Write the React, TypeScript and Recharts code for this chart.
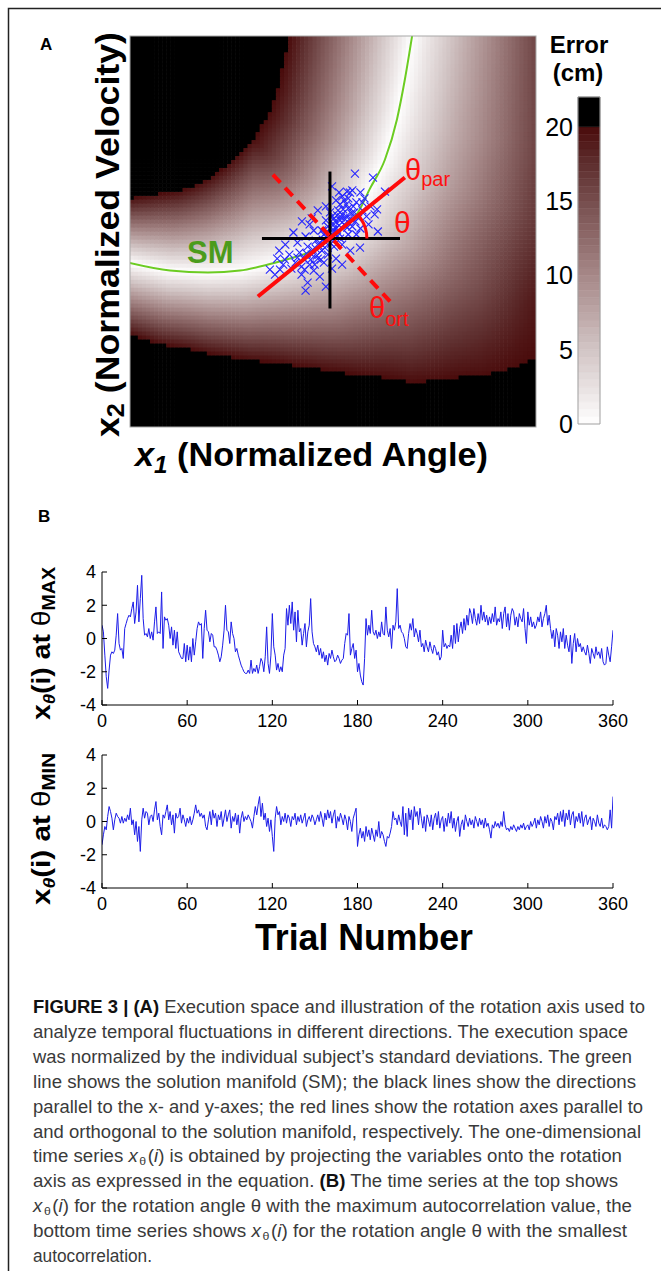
import React from 'react';
import { ComposedChart, LineChart, Line, Scatter, XAxis, YAxis, ReferenceArea } from 'recharts';

const FONT = '"Liberation Sans", Arial, Helvetica, sans-serif';
const NARROW = '"Liberation Sans Narrow", "Liberation Sans", Arial, sans-serif';

// ---------------- Panel A (execution space) ----------------
const A_X_DOMAIN: [number, number] = [-9.85, 10.15];
const A_Y_DOMAIN: [number, number] = [-9.4, 10.1];
const PLOT_A = { left: 130, top: 36, width: 406, height: 391 };

// solution manifold (normalized units)
const SM_X = [-9.95, -7.88, -6.01, -4.43, -3.05, -1.97, -1.08, 0, 0.74, 1.38, 1.97, 2.71, 3.3, 3.69, 4.07];
const SM_Y = [-1.2, -1.6, -1.7, -1.6, -1.3, -1.0, -0.7, -0.05, 0.6, 1.3, 2.49, 3.94, 5.94, 7.93, 10.25];

const UP_GAIN_X = [-10, -8.5, -6.8, -5.2, -3.8, -2.0, 4.5];
const UP_GAIN = [6.3, 5.5, 4.7, 3.85, 3.2, 3.35, 3.4];
const LO_GAIN_X = [-10, -6.8, -3.5, 0, 4, 7.4, 10.2];
const LO_GAIN_Y = [-9.5, -6.5, -3, 0, 5, 10.2];
const LO_GAIN = [
  [5.7, 5.15, 4.35, 3.36, 2.45, 2.0, 1.72],
  [5.7, 5.15, 4.35, 3.36, 2.45, 2.0, 1.72],
  [5.7, 5.15, 4.35, 3.3, 2.5, 2.1, 1.95],
  [5.7, 5.15, 4.3, 3.2, 2.5, 2.2, 2.04],
  [5.7, 5.15, 4.3, 3.2, 2.6, 2.3, 2.26],
  [5.7, 5.15, 4.3, 3.2, 2.7, 2.6, 2.57],
];

// colormap (error in cm -> colour), >20 is black
const CMAP_V = [0, 2.5, 5, 7.5, 10, 12.5, 15, 17.5, 20];
const CMAP_C = ['#ffffff', '#e8e1e1', '#d2c5c5', '#bca6a6', '#a68888', '#8e6a6a', '#764d4d', '#5e2e2e', '#4a0c0c'];
const CB_TICKS = [0, 5, 10, 15, 20];
const CB_DOMAIN: [number, number] = [0, 22];

// trial data (normalized) cloud
const CLOUD: [number, number][] = [
  [1.23, 3.24], [2.12, 3.04], [0.84, 2.34], [0.99, 2.29], [2.71, 2.34], [2.32, 1.45], [2.36, 0.35], [1.48, -0.45],
  [-1.38, 0.85], [-2.46, -1.55], [-2.71, -1.8], [-2.96, -1.55], [-2.22, -1.05],
  [0.1, 0.2], [0.3, 0.5], [0.5, 0.9], [0.6, 1.2], [0.4, 1.4], [0.8, 1.1], [0.9, 1.5], [0.2, 1.0], [-0.1, 0.6], [0.7, 0.7],
  [1.0, 1.0], [1.2, 1.3], [0.5, 1.7], [0.3, 1.9], [0.0, 1.3], [-0.2, 0.9], [1.1, 0.6], [1.4, 1.0], [1.6, 1.4], [1.3, 1.8],
  [0.9, 2.0], [0.6, 2.1], [1.8, 1.1], [2.0, 1.6], [1.5, 0.5], [0.4, 0.3], [-0.3, 0.2], [-0.5, -0.2], [-0.7, -0.5], [-0.4, -0.6],
  [-0.9, -0.8], [-1.1, -0.4], [-0.6, -1.0], [-1.3, -1.0], [-1.0, -1.3], [-0.8, -1.6], [-1.5, -0.7], [-1.7, -1.2], [-0.3, -1.2], [-0.1, -0.8],
  [0.2, -0.4], [-1.2, 0.1], [-1.6, -0.2], [-2.0, -0.8], [-1.9, -1.5], [-2.3, -1.3], [-1.4, -1.8], [-0.5, -1.9], [-1.1, -2.2], [0.1, -1.5],
  [0.6, -0.3], [0.9, 0.2], [-0.8, 0.4], [-1.0, 0.7], [-1.8, 0.3], [-2.2, -0.3], [-2.6, -1.0], [-0.2, -2.4], [0.3, -1.0], [1.0, -0.6],
  [0.0, 0.0], [0.2, 0.7], [-0.4, 0.4], [0.8, 1.7], [1.7, 2.0], [1.1, 2.4], [2.2, 1.2], [-1.4, -1.4], [-0.7, -0.1], [0.5, 0.0],
  [1.5, 2.3], [0.1, 2.6], [-0.6, 1.4], [1.9, 0.7], [-2.5, -0.6], [-1.2, -2.6], [0.6, -1.3], [-0.2, 1.6], [1.3, 0.2], [-0.9, 1.0],
  [0.35, 1.15], [0.65, 1.45], [0.15, 0.45], [0.45, 0.65], [0.75, 0.95], [1.05, 1.25], [0.55, 1.05], [0.25, 0.85], [-0.15, 0.35], [-0.35, -0.05],
  [-0.55, -0.35], [-0.25, -0.45], [-0.85, -0.55], [-0.65, -0.85], [-1.15, -0.75], [-0.45, -1.05], [-0.95, -1.05], [0.05, -0.25], [0.35, 0.1], [0.85, 0.55],
  [1.25, 0.85], [1.15, 1.6], [0.7, 1.9], [0.45, 2.3], [1.6, 1.8], [-1.6, -0.95], [-1.25, -1.55], [-0.75, -1.3], [-0.2, -0.2], [0.1, 1.1],
];

// axes / rotation axes (end points, normalized units)
const AXIS_H = [{ x: -3.35, y: 0 }, { x: 3.45, y: 0 }];
const AXIS_V = [{ x: 0, y: 3.34 }, { x: 0, y: -3.49 }];
const AXIS_PAR = [{ x: -3.55, y: -2.89 }, { x: 3.69, y: 3.04 }];
const AXIS_ORT = [{ x: -2.81, y: 3.19 }, { x: 2.96, y: -3.14 }];
const ARC_RADIUS = 1.82;
const ARC_DEG = [0, 8, 16, 24, 32, 39.3];

// ---------------- Panel B (time series) ----------------
const X_TICKS = [0, 60, 120, 180, 240, 300, 360];
const Y_TICKS = [-4, -2, 0, 2, 4];

const SERIES_MAX = [
  0.8, 0.4, -1.0, -2.3, -3.0, -1.9, -1.0, -0.8, -0.9, -0.7,
  0.2, 1.5, -0.3, -0.7, -0.6, -1.2, 0.6, 0.9, 1.2, 1.4,
  1.3, 1.8, 2.2, 0.9, 1.6, 3.2, 1.0, 2.4, 3.8, 1.2,
  0.2, 0.3, 0.1, 0.6, 0.0, 0.4, -0.1, 1.0, 1.9, 0.3,
  0.4, 0.3, 2.8, -0.6, 1.3, 1.1, 1.2, 0.8, 0.0, 0.7,
  -0.4, 0.5, -0.6, 0.4, -0.8, -1.0, -1.2, -1.2, -0.3, -1.4,
  -0.4, -1.3, -0.5, -1.4, 0.0, -1.0, -0.2, 0.6, 1.0, 0.8,
  0.9, -1.2, 0.6, 1.7, 0.5, 0.4, -0.2, 0.3, 0.2, -0.5,
  -0.5, -0.7, -1.0, -1.4, -1.1, -0.4, 0.5, 2.0, 0.5, 0.4,
  -0.3, 1.0, 0.3, 0.0, -0.8, -0.6, -1.0, -1.3, -1.6, -1.8,
  -2.0, -2.1, -2.1, -1.9, -2.1, -1.3, -2.1, -1.8, -2.0, -1.6,
  -2.1, -1.7, -1.2, -1.4, -2.0, -1.1, 0.7, -1.5, -2.1, -1.0,
  1.5, -0.5, -1.0, -1.9, -1.5, -2.0, -1.7, -2.0, -1.0, -0.6,
  1.8, 0.8, 2.0, 0.9, 2.2, 0.5, 1.6, -0.2, 1.7, 0.4,
  0.6, -0.4, 0.3, 0.9, -0.5, 0.4, 0.8, 2.4, 0.4, -0.3,
  -0.5, -0.8, -0.4, -1.0, -0.6, -1.2, -0.8, -1.4, -1.0, -1.6,
  -0.9, -1.2, -0.7, -1.1, -1.4, -1.3, -1.0, -1.2, -1.5, -1.3,
  -1.2, -0.3, 0.3, 0.2, 1.5, -1.0, -0.6, -0.3, -1.2, -0.7,
  -2.0, -1.5, -2.2, -2.6, -2.8, -1.2, 1.2, 0.2, 0.8, 0.3,
  1.7, 0.4, 0.2, 0.5, 0.0, 0.4, 0.1, 1.0, 0.3, 0.2,
  1.9, 0.5, 0.1, 0.6, -0.6, 0.8, 0.5, 1.0, 3.0, 0.6,
  0.8, 0.4, 0.3, 0.0, -0.5, -0.6, 0.3, 0.9, 0.5, 1.2,
  0.1, 0.6, 0.3, -0.2, 0.5, -0.5, -0.3, -0.8, -0.1, -0.5,
  -0.8, -0.2, -0.6, -0.9, -0.4, -0.6, -1.0, -0.8, -1.3, -1.1,
  0.5, -0.5, -0.3, -0.6, -0.4, -0.5, 0.2, -0.6, 0.8, -0.3,
  0.9, -0.2, 0.6, 1.0, 0.3, 1.2, 0.5, 1.4, 0.8, 1.8,
  1.5, 0.9, 1.8, 1.2, 0.8, 1.5, 0.9, 2.0, 1.1, 1.6,
  1.0, 1.4, 0.8, 1.3, 0.9, 1.5, 1.0, 1.9, 0.8, 1.2,
  1.0, 1.6, 0.6, 1.5, 1.9, 0.7, 1.5, 0.5, 1.4, 1.8,
  1.6, 0.8, 1.3, 0.7, 1.5, 1.2, 1.0, 1.8, 0.6, -0.3,
  1.6, 0.8, 1.3, 0.7, 1.0, 0.6, 0.8, 1.3, 1.0, 1.6,
  0.7, 1.2, 1.5, 2.0, 0.8, 1.4, 0.6, 0.0, 0.5, -0.5,
  0.6, 0.2, -0.6, 0.4, -0.2, 0.6, -0.6, 0.2, -0.4, -0.8,
  0.2, -1.5, -0.3, 0.3, -0.8, 0.0, -0.5, -0.3, -0.8, -0.5,
  -0.8, -1.0, -0.4, -0.9, -1.5, -0.6, -0.9, -1.2, -0.5, -1.0,
  -0.8, -1.2, -0.6, -1.4, -1.6, -1.5, -0.5, -1.0, -1.4, -0.5,
  0.5,
];

const SERIES_MIN = [
  -1.4, -0.8, -0.3, -0.5, 0.3, 0.9, 0.6, 0.2, -0.5, 0.1,
  0.5, 0.3, 0.2, -0.1, 0.3, -0.1, 0.2, 0.0, 0.4, 0.1,
  0.8, -0.2, 0.1, -0.8, 0.0, -1.2, -0.3, -1.8, 0.1, 0.8,
  0.2, 0.6, 0.5, -0.2, 0.3, 0.4, 0.0, 0.7, 1.2, 0.1,
  0.5, -0.3, -0.8, 0.4, 0.2, 0.6, 1.0, 0.1, 0.6, -0.2,
  0.4, -0.7, 0.5, 0.2, 0.3, 0.8, -0.1, 0.4, 0.1, -0.3,
  0.2, -0.1, 0.3, -0.2, 0.1, 0.5, 1.0, 0.5, 0.7, 0.3,
  0.5, 0.2, 0.4, -0.3, -0.5, 0.1, 0.6, -0.2, 0.7, 0.2,
  0.5, -0.3, 0.4, 0.1, 0.6, -0.3, 0.2, 0.7, 0.0, 0.4,
  0.7, -0.4, 0.3, 0.0, 0.5, -0.2, 0.4, -0.7, 0.2, 0.6,
  0.0, 0.3, 0.1, 0.4, 0.2, 0.0, -0.4, 0.3, 0.9, 0.4,
  1.0, 1.5, 0.3, 1.1, 0.1, 0.5, -0.3, 0.2, -0.6, 0.1,
  -0.9, -1.8, 0.2, 0.9, 0.4, 0.6, -0.2, 0.3, 0.0, 0.5,
  -0.1, 0.4, 0.2, -0.3, 0.3, 0.1, 0.5, -0.2, 0.3, 0.0,
  0.4, -0.1, 0.2, 0.5, -0.3, 0.1, 0.3, 0.0, 0.4, 0.2,
  -0.2, 0.1, 0.4, 0.0, 0.6, 0.2, -0.3, 0.5, 0.1, 0.7,
  0.2, 0.6, -0.1, 0.4, 0.7, -0.4, 0.3, 0.0, 0.5, 0.2,
  -0.2, 0.4, 0.1, -0.5, 0.3, 0.0, -0.6, 0.2, 0.5, 0.8,
  -1.5, -0.8, -0.4, -1.0, -0.6, -1.2, -0.3, -0.9, -0.5, -1.1,
  -0.4, -0.8, -1.2, -0.5, -0.9, 0.0, -1.0, -0.6, -0.8, -1.2,
  -1.5, -0.9, -1.0, -0.7, -0.3, 0.6, 0.1, 0.2, -0.2, 0.4,
  0.0, -0.3, 0.9, -0.8, 0.5, -0.9, 0.8, 0.1, 0.7, -0.5,
  0.9, 0.3, 0.6, -0.2, 0.8, 0.2, -0.4, 0.3, -0.6, 0.4,
  0.1, -0.3, 0.4, -0.5, 0.2, 0.5, -0.2, 0.6, -0.4, 0.1,
  0.3, -0.6, 0.2, -0.3, 0.5, -0.1, 0.6, -0.4, 0.2, -0.6,
  0.0, 0.3, -0.9, -0.2, 0.1, -0.5, 0.4, 0.0, -0.3, 0.2,
  -0.2, 0.1, -0.4, 0.3, 0.0, -0.3, 0.2, -0.2, 0.1, -0.4,
  0.2, -0.3, -0.1, -0.5, -1.0, -0.2, -0.4, 0.0, -0.3, -0.1,
  -0.4, 0.0, -0.3, 0.6, -0.2, -0.5, -0.4, -0.6, -0.3, -0.5,
  -0.2, -0.4, -0.6, -0.3, -0.5, -0.2, -0.4, -0.1, -0.5, -0.3,
  -0.2, -0.5, 0.0, -0.3, -0.1, 0.2, -0.4, 0.1, -0.2, 0.3,
  0.0, -0.4, 0.3, -0.1, 0.4, -0.3, 0.2, 0.0, -0.5, 0.3,
  0.1, 0.5, -0.2, 0.6, 0.0, 0.7, -0.3, 0.5, 0.1, 0.7,
  -0.2, 0.4, 0.6, -0.4, 0.3, 0.0, 0.5, -0.1, 0.6, -0.3,
  0.2, 0.4, -0.2, 0.1, 0.3, -0.5, 0.2, 0.0, -0.3, 0.4,
  -0.1, -0.3, 0.2, -0.4, -0.2, -0.3, -0.5, -0.3, 0.7, -0.4,
  1.5,
];

// ---------------- caption ----------------
type Seg = { t: string; b?: boolean; i?: boolean; sub?: boolean };
const CAPTION: { segs: Seg[]; w: number }[] = [
  { segs: [{ t: 'FIGURE 3 | (A)', b: true }, { t: ' Execution space and illustration of the rotation axis used to' }], w: 612 },
  { segs: [{ t: 'analyze temporal fluctuations in different directions. The execution space' }], w: 595 },
  { segs: [{ t: 'was normalized by the individual subject\u2019s standard deviations. The green' }], w: 599 },
  { segs: [{ t: 'line shows the solution manifold (SM); the black lines show the directions' }], w: 603 },
  { segs: [{ t: 'parallel to the x- and y-axes; the red lines show the rotation axes parallel to' }], w: 610 },
  { segs: [{ t: 'and orthogonal to the solution manifold, respectively. The one-dimensional' }], w: 608 },
  { segs: [{ t: 'time series ' }, { t: 'x', i: true }, { t: '\u03b8', sub: true }, { t: '(' }, { t: 'i', i: true }, { t: ') is obtained by projecting the variables onto the rotation' }], w: 589 },
  { segs: [{ t: 'axis as expressed in the equation. ' }, { t: '(B)', b: true }, { t: ' The time series at the top shows' }], w: 585 },
  { segs: [{ t: 'x', i: true }, { t: '\u03b8', sub: true }, { t: '(' }, { t: 'i', i: true }, { t: ') for the rotation angle \u03b8 with the maximum autocorrelation value, the' }], w: 599 },
  { segs: [{ t: 'bottom time series shows ' }, { t: 'x', i: true }, { t: '\u03b8', sub: true }, { t: '(' }, { t: 'i', i: true }, { t: ') for the rotation angle \u03b8 with the smallest' }], w: 594 },
  { segs: [{ t: 'autocorrelation.' }], w: 119 },
];

// ---------------- helpers ----------------
function interp1(xs: number[], vs: number[], x: number): number {
  if (x <= xs[0]) return vs[0];
  for (let i = 1; i < xs.length; i++) {
    if (x <= xs[i]) {
      const t = (x - xs[i - 1]) / (xs[i] - xs[i - 1]);
      return vs[i - 1] + t * (vs[i] - vs[i - 1]);
    }
  }
  return vs[vs.length - 1];
}

function loGain(x: number, y: number) {
  const col = LO_GAIN.map((row) => interp1(LO_GAIN_X, row, x));
  return interp1(LO_GAIN_Y, col, y);
}

function smDistance(px: number, py: number) {
  let best = Infinity;
  let side = 1;
  for (let i = 0; i < SM_X.length - 1; i++) {
    const ax = SM_X[i], ay = SM_Y[i];
    const dx = SM_X[i + 1] - ax, dy = SM_Y[i + 1] - ay;
    let t = ((px - ax) * dx + (py - ay) * dy) / (dx * dx + dy * dy);
    t = Math.max(0, Math.min(1, t));
    const qx = ax + t * dx, qy = ay + t * dy;
    const d = Math.hypot(px - qx, py - qy);
    if (d < best) {
      best = d;
      side = dx * (py - ay) - dy * (px - ax) >= 0 ? 1 : -1;
    }
  }
  return { d: best, side };
}

function errorAt(x: number, y: number) {
  const { d, side } = smDistance(x, y);
  const g = side > 0 ? interp1(UP_GAIN_X, UP_GAIN, x) : loGain(x, y);
  return g * d;
}

function hexRgb(h: string) {
  return [parseInt(h.slice(1, 3), 16), parseInt(h.slice(3, 5), 16), parseInt(h.slice(5, 7), 16)];
}
function errorColor(e: number) {
  if (e > 20) return '#000000';
  for (let i = 1; i < CMAP_V.length; i++) {
    if (e <= CMAP_V[i]) {
      const t = (e - CMAP_V[i - 1]) / (CMAP_V[i] - CMAP_V[i - 1]);
      const a = hexRgb(CMAP_C[i - 1]), b = hexRgb(CMAP_C[i]);
      const c = a.map((v, k) => Math.round(v + t * (b[k] - v)));
      return `rgb(${c[0]},${c[1]},${c[2]})`;
    }
  }
  return CMAP_C[CMAP_C.length - 1];
}

const HEAT_COLS = 100;
const HEAT_ROWS = 98;
const CELL_W = PLOT_A.width / HEAT_COLS;
const CELL_H = PLOT_A.height / HEAT_ROWS;

const HEAT_CELLS = (() => {
  const out: { x: number; y: number; fill: string }[] = [];
  const [x0, x1] = A_X_DOMAIN;
  const [y0, y1] = A_Y_DOMAIN;
  const sx = (x1 - x0) / HEAT_COLS, sy = (y1 - y0) / HEAT_ROWS;
  for (let j = 0; j < HEAT_ROWS; j++) {
    for (let i = 0; i < HEAT_COLS; i++) {
      const x = x0 + (i + 0.5) * sx, y = y0 + (j + 0.5) * sy;
      out.push({ x, y, fill: errorColor(errorAt(x, y)) });
    }
  }
  return out;
})();

const SM_DATA = SM_X.map((x, i) => ({ x, y: SM_Y[i] }));
const CLOUD_DATA = CLOUD.map(([x, y]) => ({ x, y }));
const ARC_DATA = ARC_DEG.map((a) => ({ x: ARC_RADIUS * Math.cos((a * Math.PI) / 180), y: ARC_RADIUS * Math.sin((a * Math.PI) / 180) }));

const CB_STEPS = (() => {
  const s: { y1: number; y2: number; fill: string }[] = [];
  for (let v = 0; v < 20; v += 0.5) s.push({ y1: v, y2: v + 0.5, fill: errorColor(v + 0.25) });
  s.push({ y1: 20, y2: 22, fill: '#000000' });
  return s;
})();

const MAX_DATA = SERIES_MAX.map((v, t) => ({ t, v }));
const MIN_DATA = SERIES_MIN.map((v, t) => ({ t, v }));

// ---------------- shapes ----------------
const NoShape = () => <g />;
function HeatCell(props: any) {
  const { cx, cy, payload } = props;
  if (cx == null || cy == null) return <g />;
  return (
    <rect x={cx - CELL_W / 2 - 0.3} y={cy - CELL_H / 2 - 0.3} width={CELL_W + 0.6} height={CELL_H + 0.6} fill={payload.fill} />
  );
}
function XMark(props: any) {
  const { cx, cy } = props;
  if (cx == null || cy == null) return <g />;
  const r = 4;
  return (
    <g stroke="#2424ff" strokeWidth={1.1}>
      <line x1={cx - r} y1={cy - r} x2={cx + r} y2={cy + r} />
      <line x1={cx - r} y1={cy + r} x2={cx + r} y2={cy - r} />
    </g>
  );
}

// plot area of the time series: x 102..613
function TimeSeries({ data, top }: { data: { t: number; v: number }[]; top: number }) {
  const tickStyle = { fontSize: 18, fill: '#000', fontFamily: FONT };
  return (
    <div style={{ position: 'absolute', left: 0, top }}>
      <LineChart width={661} height={200} data={data} margin={{ top: 20, right: 48, bottom: 17, left: 42 }}>
        <XAxis
          dataKey="t"
          type="number"
          domain={[0, 360]}
          ticks={X_TICKS}
          interval={0}
          height={30}
          tickSize={-5}
          tickMargin={14}
          axisLine={{ stroke: '#000', strokeWidth: 1 }}
          tickLine={{ stroke: '#000' }}
          tick={tickStyle}
          allowDataOverflow
        />
        <YAxis
          type="number"
          domain={[-4, 4]}
          ticks={Y_TICKS}
          interval={0}
          width={60}
          tickSize={-5}
          tickMargin={11}
          axisLine={{ stroke: '#000', strokeWidth: 1 }}
          tickLine={{ stroke: '#000' }}
          tick={tickStyle}
          allowDataOverflow
        />
        <Line dataKey="v" type="linear" stroke="#1c1ce8" strokeWidth={1} dot={false} isAnimationActive={false} />
      </LineChart>
    </div>
  );
}

function CaptionLine({ segs, w, y }: { segs: Seg[]; w: number; y: number }) {
  let prevSub = false;
  return (
    <text x={33} y={y} textLength={w} lengthAdjust="spacingAndGlyphs" fontSize={17.5} fontFamily={NARROW} fill="#3a3a3a">
      {segs.map((s, k) => {
        let dy = 0;
        let dx: number | undefined;
        if (s.sub && !prevSub) { dy = 3; dx = 1.5; }
        else if (!s.sub && prevSub) { dy = -3; dx = 1.5; }
        prevSub = !!s.sub;
        return (
          <tspan
            key={k}
            dy={dy || undefined}
            dx={dx}
            fontWeight={s.b ? 'bold' : undefined}
            fill={s.b ? '#111' : undefined}
            fontStyle={s.i ? 'italic' : undefined}
            fontSize={s.sub ? 11.5 : undefined}
          >
            {s.t}
          </tspan>
        );
      })}
    </text>
  );
}

export default function App() {
  return (
    <div style={{ position: 'absolute', left: 0, top: 0, width: 661, height: 1271, background: '#fff', overflow: 'hidden' }}>
      {/* Panel A */}
      <div style={{ position: 'absolute', left: 0, top: 0 }}>
        <ComposedChart width={661} height={480} margin={{ top: PLOT_A.top, right: 661 - PLOT_A.left - PLOT_A.width, bottom: 480 - PLOT_A.top - PLOT_A.height, left: PLOT_A.left }}>
          <XAxis dataKey="x" type="number" domain={A_X_DOMAIN} allowDataOverflow hide />
          <YAxis dataKey="y" type="number" domain={A_Y_DOMAIN} allowDataOverflow hide />
          <Scatter data={HEAT_CELLS} shape={HeatCell} isAnimationActive={false} />
          <Scatter data={SM_DATA} shape={NoShape} line={{ stroke: '#6ccc22', strokeWidth: 2 }} lineJointType="monotoneX" isAnimationActive={false} />
          <Scatter data={CLOUD_DATA} shape={XMark} isAnimationActive={false} />
          <Scatter data={AXIS_H} shape={NoShape} line={{ stroke: '#000', strokeWidth: 3 }} isAnimationActive={false} />
          <Scatter data={AXIS_V} shape={NoShape} line={{ stroke: '#000', strokeWidth: 3 }} isAnimationActive={false} />
          <Scatter data={AXIS_PAR} shape={NoShape} line={{ stroke: '#ff0a0a', strokeWidth: 4 }} isAnimationActive={false} />
          <Scatter data={AXIS_ORT} shape={NoShape} line={{ stroke: '#ff0a0a', strokeWidth: 4, strokeDasharray: '11 7' }} isAnimationActive={false} />
          <Scatter data={ARC_DATA} shape={NoShape} line={{ stroke: '#ff0a0a', strokeWidth: 3 }} isAnimationActive={false} />
        </ComposedChart>
      </div>

      {/* colour bar */}
      <div style={{ position: 'absolute', left: 490, top: 80 }}>
        <ComposedChart width={130} height={360} margin={{ top: 17, right: 20, bottom: 16, left: 8 }} data={[{ x: 0, y: 0 }, { x: 1, y: 22 }]}>
          <XAxis dataKey="x" type="number" domain={[0, 1]} allowDataOverflow hide />
          <YAxis
            dataKey="y"
            type="number"
            domain={CB_DOMAIN}
            ticks={CB_TICKS}
            interval={0}
            width={80}
            axisLine={false}
            tickLine={false}
            tickSize={0}
            tickMargin={5}
            tick={{ fontSize: 25, fill: '#000', fontFamily: FONT }}
            allowDataOverflow
          />
          {CB_STEPS.map((s, k) => (
            <ReferenceArea key={k} x1={0} x2={1} y1={s.y1} y2={s.y2} fill={s.fill} fillOpacity={1} stroke={s.fill} strokeWidth={0.5} ifOverflow="visible" />
          ))}
          <ReferenceArea x1={0} x2={1} y1={0} y2={22} fill="none" stroke="#a0a0a0" strokeWidth={1} ifOverflow="visible" />
        </ComposedChart>
      </div>

      {/* Panel B */}
      <TimeSeries data={MAX_DATA} top={552} />
      <TimeSeries data={MIN_DATA} top={735} />

      {/* text overlay */}
      <svg width={661} height={1271} style={{ position: 'absolute', left: 0, top: 0, pointerEvents: 'none' }}>
        <path d="M8.5 1271 V8.5 H661" stroke="#222" strokeWidth={1.5} fill="none" />
        <rect x={PLOT_A.left} y={PLOT_A.top} width={PLOT_A.width} height={PLOT_A.height} fill="none" stroke="#a8a8a8" strokeWidth={1} />

        <text x={40} y={50} fontSize={17} fontWeight="bold" fontFamily={FONT} fill="#000">A</text>
        <text x={38} y={522} fontSize={17} fontWeight="bold" fontFamily={FONT} fill="#000">B</text>

        {/* Panel A axis titles */}
        <text transform="translate(119,437) rotate(-90)" fontSize={34} fontWeight="bold" fontFamily={FONT} fill="#000" textLength={405} lengthAdjust="spacingAndGlyphs">
          <tspan>x</tspan>
          <tspan dy={5} fontSize={24}>2</tspan>
          <tspan dy={-5}> (Normalized Velocity)</tspan>
        </text>
        <text x={135} y={466} fontSize={34} fontWeight="bold" fontFamily={FONT} fill="#000" textLength={353} lengthAdjust="spacingAndGlyphs">
          <tspan fontStyle="italic">x</tspan>
          <tspan dy={7} fontSize={24} fontStyle="italic">1</tspan>
          <tspan dy={-7}> (Normalized Angle)</tspan>
        </text>

        {/* annotations */}
        <text x={187} y={263} fontSize={31} fontWeight="bold" fontFamily={FONT} fill="#4b9b1b">SM</text>
        <text x={405} y={180} fontSize={29} fontFamily={FONT} fill="#ff1010">
          θ<tspan dy={6} fontSize={20}>par</tspan>
        </text>
        <text x={394} y={233} fontSize={30} fontFamily={FONT} fill="#ff1010">θ</text>
        <text x={369} y={318} fontSize={29} fontFamily={FONT} fill="#ff1010">
          θ<tspan dy={8} fontSize={20}>ort</tspan>
        </text>

        {/* colour bar title */}
        <text x={579} y={53} textAnchor="middle" fontSize={24} fontWeight="bold" fontFamily={FONT} fill="#000">Error</text>
        <text x={578} y={81} textAnchor="middle" fontSize={24} fontWeight="bold" fontFamily={FONT} fill="#000">(cm)</text>

        {/* Panel B axis titles */}
        <text transform="translate(50,720) rotate(-90)" fontSize={26} fontWeight="bold" fontFamily={FONT} fill="#000" textLength={153} lengthAdjust="spacingAndGlyphs">
          <tspan>x</tspan>
          <tspan dy={5} fontSize={17} fontStyle="italic">θ</tspan>
          <tspan dy={-5}>(i) at </tspan>
          <tspan fontWeight="normal">θ</tspan>
          <tspan dy={5} fontSize={18}>MAX</tspan>
        </text>
        <text transform="translate(50,905) rotate(-90)" fontSize={26} fontWeight="bold" fontFamily={FONT} fill="#000" textLength={152} lengthAdjust="spacingAndGlyphs">
          <tspan>x</tspan>
          <tspan dy={5} fontSize={17} fontStyle="italic">θ</tspan>
          <tspan dy={-5}>(i) at </tspan>
          <tspan fontWeight="normal">θ</tspan>
          <tspan dy={5} fontSize={18}>MIN</tspan>
        </text>
        <text x={255} y={950} fontSize={36} fontWeight="bold" fontFamily={FONT} fill="#000" textLength={218} lengthAdjust="spacingAndGlyphs">Trial Number</text>

        {/* caption */}
        {CAPTION.map((l, k) => (
          <CaptionLine key={k} segs={l.segs} w={l.w} y={1013 + k * 24.9} />
        ))}
      </svg>
    </div>
  );
}
